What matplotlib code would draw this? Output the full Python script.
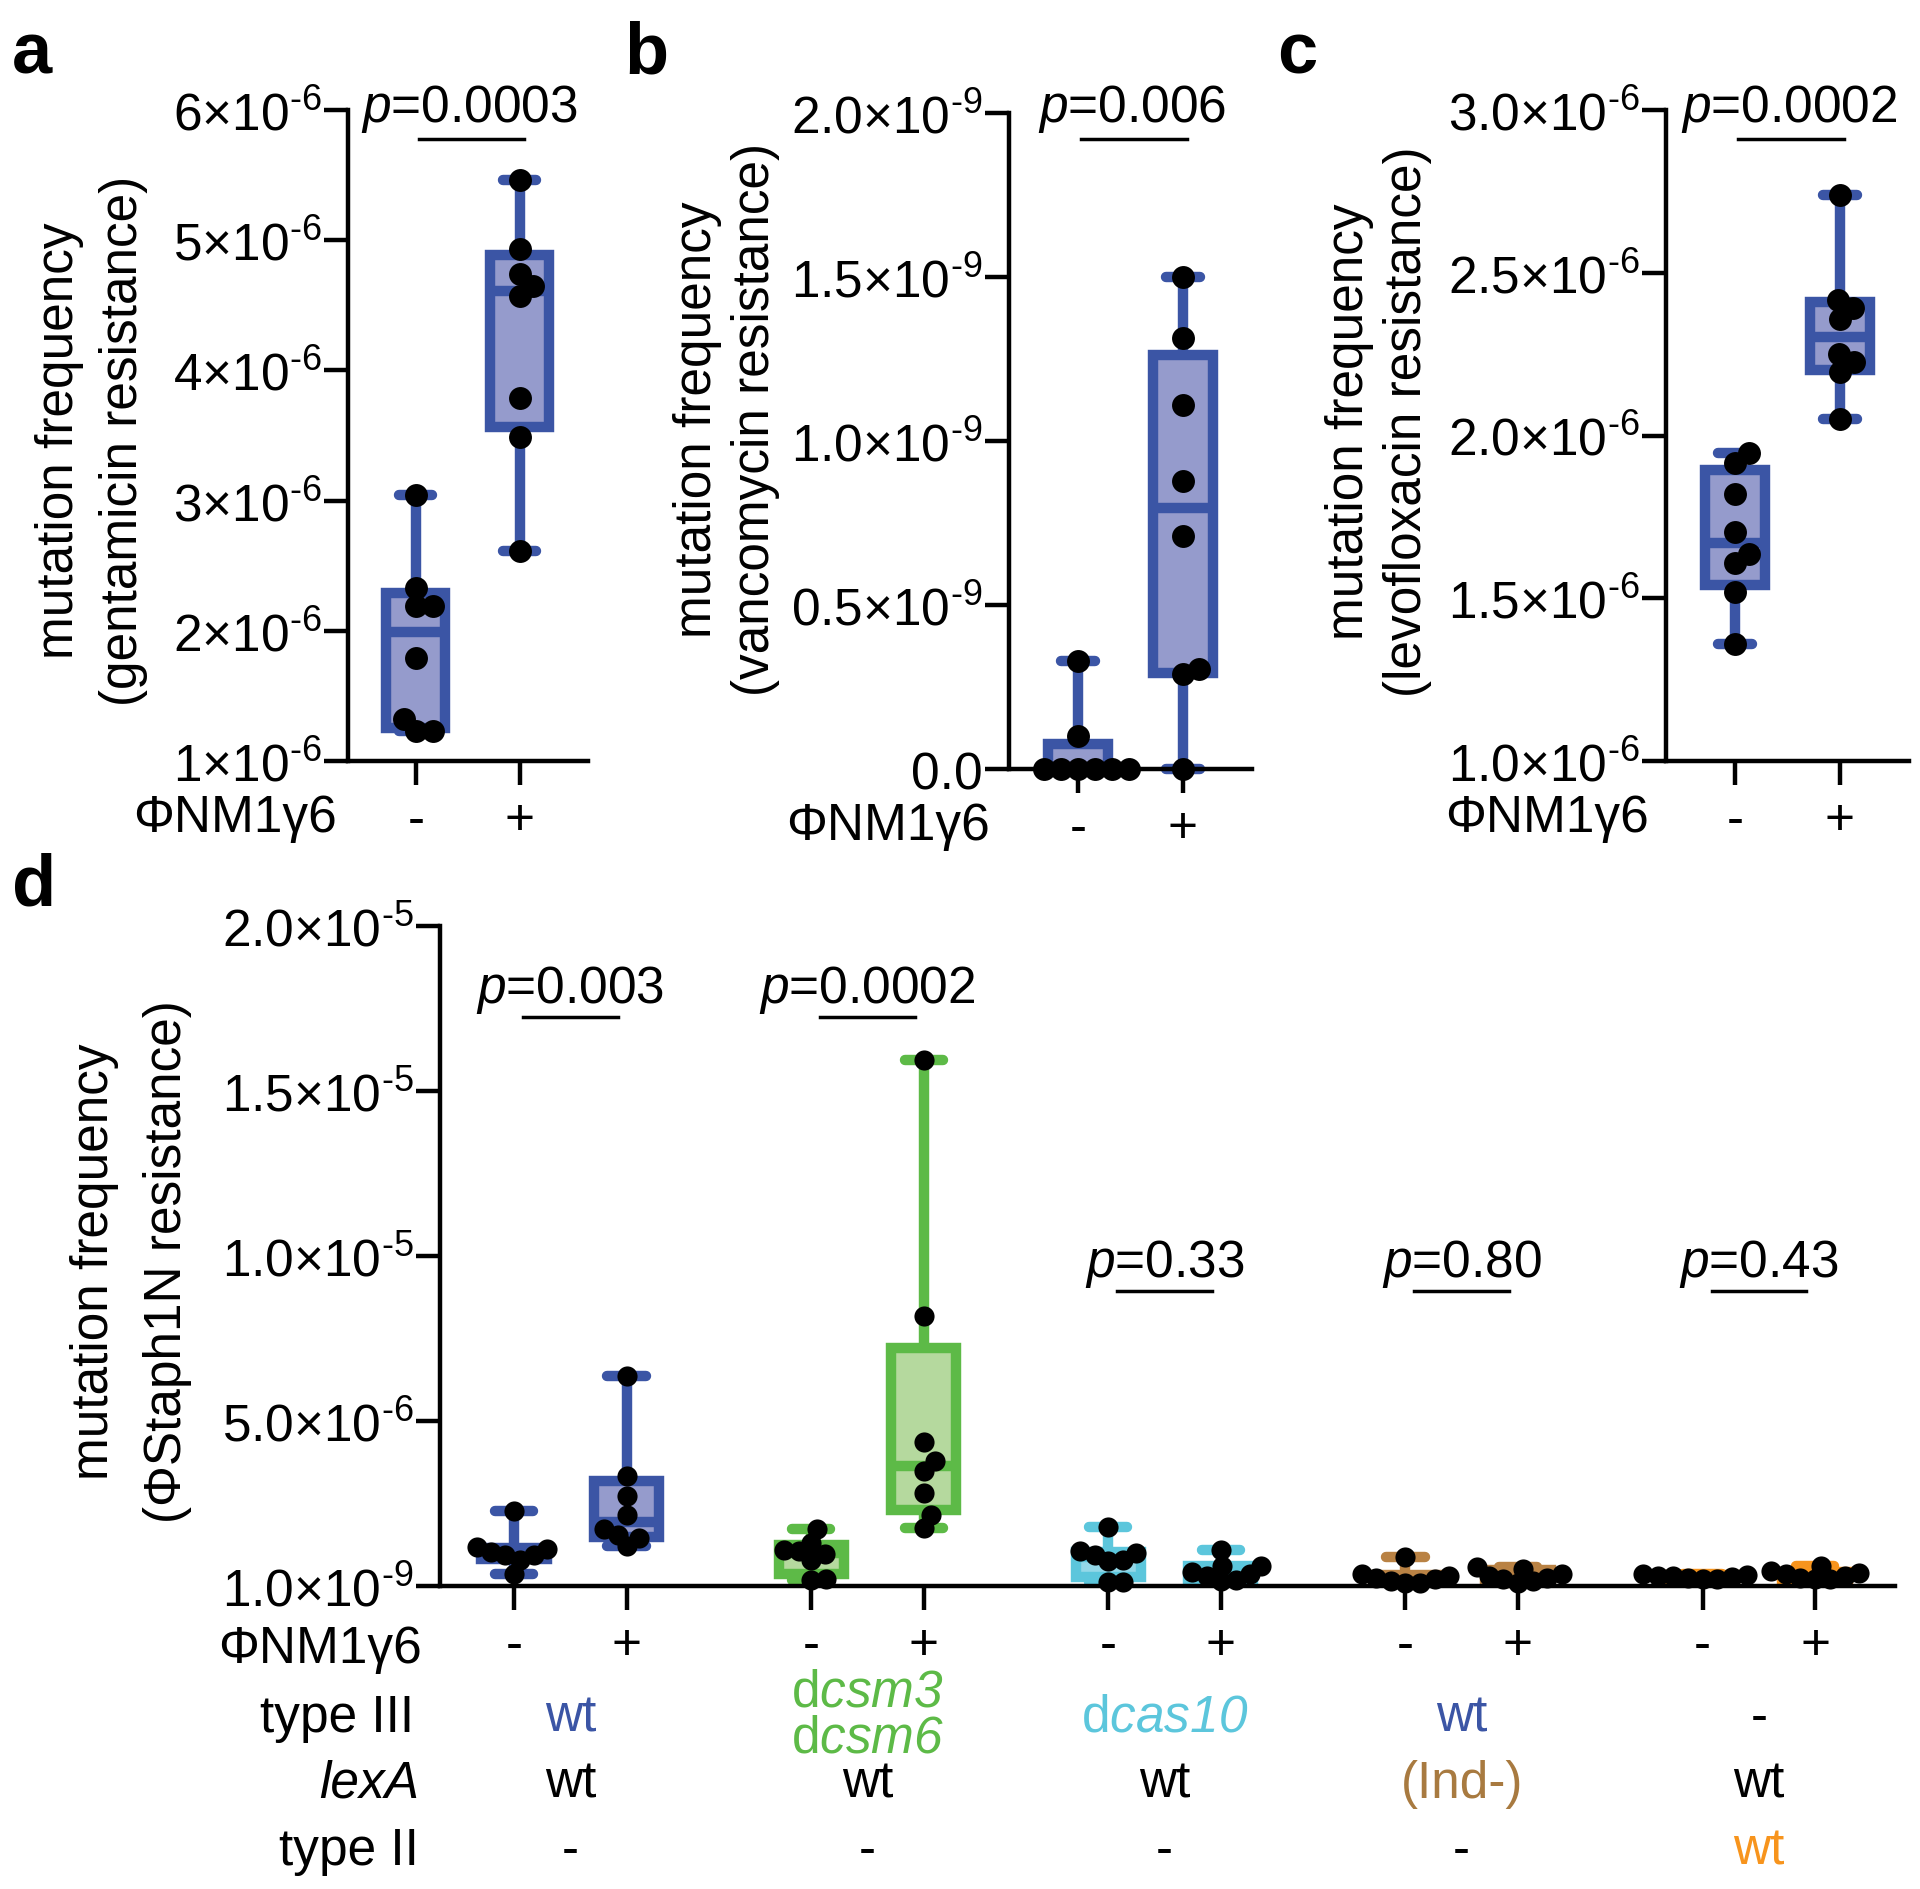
import numpy as np
import matplotlib
matplotlib.use('Agg')
import matplotlib.pyplot as plt
import matplotlib.transforms as mtransforms

plt.rcParams['font.family'] = ['Liberation Sans', 'DejaVu Sans']
plt.rcParams['mathtext.fontset'] = 'custom'
plt.rcParams['mathtext.rm'] = 'Liberation Sans'
plt.rcParams['mathtext.it'] = 'Liberation Sans:italic'
plt.rcParams['mathtext.bf'] = 'Liberation Sans:bold'
# 'sf' slot used for italic gene names so digits stay italic too
plt.rcParams['mathtext.sf'] = 'Liberation Sans:italic'

# ---- data ----
# a: gentamicin resistance, x1e-6
gent_minus = np.array([3.04, 2.325, 2.19, 2.19, 1.79, 1.32, 1.23, 1.23]) * 1e-6
gent_plus = np.array([5.46, 4.93, 4.74, 4.65, 4.57, 3.79, 3.49, 2.61]) * 1e-6
# b: vancomycin resistance, x1e-9
vanc_minus = np.array([0.33, 0.10, 0.0, 0.0, 0.0, 0.0, 0.0, 0.0]) * 1e-9
vanc_plus = np.array([1.50, 1.314, 1.11, 0.879, 0.711, 0.306, 0.289, 0.0]) * 1e-9
# c: levofloxacin resistance, x1e-6
levo_minus = np.array([1.945, 1.917, 1.82, 1.705, 1.637, 1.608, 1.52, 1.358]) * 1e-6
levo_plus = np.array([2.738, 2.417, 2.392, 2.358, 2.25, 2.225, 2.195, 2.05]) * 1e-6
# d: PhiStaph1N resistance, x1e-6, one pair (-, +) per strain
staph_minus = [
    np.array([2.26, 1.17, 1.11, 1.02, 0.93, 0.93, 0.78, 0.36]) * 1e-6,
    np.array([1.72, 1.30, 1.10, 1.05, 0.96, 0.80, 0.20, 0.18]) * 1e-6,
    np.array([1.78, 1.05, 1.00, 0.95, 0.80, 0.75, 0.12, 0.12]) * 1e-6,
    np.array([0.87, 0.35, 0.30, 0.25, 0.20, 0.15, 0.10, 0.08]) * 1e-6,
    np.array([0.35, 0.33, 0.30, 0.30, 0.28, 0.25, 0.22, 0.20]) * 1e-6,
]
staph_plus = [
    np.array([6.35, 3.34, 2.74, 2.14, 1.72, 1.56, 1.45, 1.20]) * 1e-6,
    np.array([15.93, 8.17, 4.37, 3.80, 3.49, 2.82, 2.15, 1.75]) * 1e-6,
    np.array([1.10, 0.62, 0.60, 0.42, 0.35, 0.30, 0.18, 0.15]) * 1e-6,
    np.array([0.57, 0.52, 0.35, 0.30, 0.25, 0.20, 0.15, 0.10]) * 1e-6,
    np.array([0.62, 0.45, 0.40, 0.35, 0.30, 0.25, 0.22, 0.20]) * 1e-6,
]
p_top = ['0.0003', '0.006', '0.0002']
p_d = ['0.003', '0.0002', '0.33', '0.80', '0.43']
type3_labels = ['wt', 'd$\\mathsf{csm3}$\nd$\\mathsf{csm6}$', 'd$\\mathsf{cas10}$', 'wt', '-']
lexa_labels = ['wt', 'wt', 'wt', '(Ind-)', 'wt']
type2_labels = ['-', '-', '-', '-', 'wt']

BLUE, BLUE_FILL = '#3B55A5', '#959BCC'
GREEN, GREEN_FILL = '#5DBA47', '#B5D99E'
CYAN, CYAN_FILL = '#5CC6DC', '#94D8E8'
BROWN, BROWN_FILL = '#B98244', '#DDBE98'
ORANGE, ORANGE_FILL = '#F7941D', '#FBC98C'
group_edge = [BLUE, GREEN, CYAN, BROWN, ORANGE]
group_fill = [BLUE_FILL, GREEN_FILL, CYAN_FILL, BROWN_FILL, ORANGE_FILL]
type3_colors = [BLUE, GREEN, CYAN, BLUE, 'black']
lexa_colors = ['black', 'black', 'black', '#A87A40', 'black']
type2_colors = ['black', 'black', 'black', 'black', ORANGE]

W, H = 1920, 1890
FS = 37
fig = plt.figure(figsize=(19.2, 18.9), dpi=100)


def sci(mant, exp):
    # tick label like 5×10^-6 with a plain hyphen in the exponent
    return '%s×10$^{\\text{-%d}}$' % (mant, exp)


def px_axes(left, top, right, bottom):
    return fig.add_axes([left / W, 1 - bottom / H, (right - left) / W, (bottom - top) / H])


def ftext(x, y, s, **kw):
    kw.setdefault('fontsize', FS)
    return fig.text(x / W, 1 - y / H, s, **kw)


def style(ax):
    for s in ['top', 'right']:
        ax.spines[s].set_visible(False)
    for s in ['left', 'bottom']:
        ax.spines[s].set_linewidth(3.2)
    ax.tick_params(axis='both', width=3.2, length=17, labelsize=FS)
    ax.tick_params(axis='y', pad=2)
    ax.tick_params(axis='x', pad=8)
    ax.patch.set_alpha(0)


def box_stats(vals):
    q1, med, q3 = np.percentile(vals, [25, 50, 75], method='weibull')
    return dict(med=med, q1=q1, q3=q3, whislo=vals.min(), whishi=vals.max(), fliers=[])


def draw_box(ax, vals, pos, edge, fill, lw=7.5, width=0.57, capw=0.32):
    arts = ax.bxp([box_stats(vals)], positions=[pos], widths=width, capwidths=capw,
                  patch_artist=True, showfliers=False, manage_ticks=False,
                  boxprops=dict(facecolor=fill, edgecolor=edge, linewidth=lw),
                  whiskerprops=dict(color=edge, linewidth=lw, solid_capstyle='butt'),
                  capprops=dict(color=edge, linewidth=lw, solid_capstyle='round'),
                  medianprops=dict(color=edge, linewidth=lw, solid_capstyle='butt'))
    for group in arts.values():
        for a in group:
            a.set_clip_on(False)
            a.set_zorder(2)


def swarm(ax, vals, pos, ms, squeeze=0.74):
    # simple beeswarm in pixel space so overlapping dots spread sideways
    diam = ms * fig.dpi / 72.0
    pts = ax.transData.transform(np.column_stack([np.full(len(vals), pos), vals]))
    x0, ys = pts[0, 0], pts[:, 1]
    d = diam * squeeze
    offs = np.zeros(len(vals))
    placed = []
    for i in np.argsort(ys):
        y = ys[i]
        cands = [0.0]
        for o, py in placed:
            dy = abs(py - y)
            if dy < d:
                dx = np.sqrt(d ** 2 - dy ** 2)
                cands += [o + dx, o - dx]
        cands = sorted(cands, key=lambda c: (abs(c), -c))
        for c in cands:
            if all((c - o) ** 2 + (y - py) ** 2 >= d ** 2 - 1e-6 for o, py in placed):
                offs[i] = c
                break
        placed.append((offs[i], y))
    xs = ax.transData.inverted().transform(np.column_stack([x0 + offs, ys]))[:, 0]
    ax.scatter(xs, vals, s=ms ** 2, color='black', linewidths=0, zorder=5, clip_on=False)


# ---- panels a-c ----
top_specs = [
    ('a', (348, 111, 588, 762), gent_minus, gent_plus, 1e-6, 6e-6,
     [1e-6, 2e-6, 3e-6, 4e-6, 5e-6, 6e-6], [sci(i, 6) for i in range(1, 7)],
     '(gentamicin resistance)', 12, 60, 124, 441, 337),
    ('b', (1009, 114, 1252, 770), vanc_minus, vanc_plus, 0, 2e-9,
     [0, 0.5e-9, 1e-9, 1.5e-9, 2e-9], ['0.0'] + [sci(m, 9) for m in ['0.5', '1.0', '1.5', '2.0']],
     '(vancomycin resistance)', 624, 697, 756, 420, 990),
    ('c', (1666, 111, 1909, 762), levo_minus, levo_plus, 1e-6, 3e-6,
     [1e-6, 1.5e-6, 2e-6, 2.5e-6, 3e-6], [sci(m, 6) for m in ['1.0', '1.5', '2.0', '2.5', '3.0']],
     '(levofloxacin resistance)', 1277, 1349, 1408, 422, 1649),
]
p_frac = [(0.983, 0.955), (0.988, 0.960), (0.983, 0.955)]

for k, (lab, box, vm, vp, y0, y1, yt, ytl, ylab2, labx, yl1x, yl2x, ylc, phix) in enumerate(top_specs):
    ax = px_axes(*box)
    style(ax)
    ax.set_xlim(-0.655, 1.66)
    ax.set_ylim(y0, y1)
    ax.set_yticks(yt)
    ax.set_yticklabels(ytl)
    ax.set_xticks([0, 1])
    ax.set_xticklabels(['-', '+'])
    for pos, vals in zip([0, 1], [vm, vp]):
        draw_box(ax, vals, pos, BLUE, BLUE_FILL)
        swarm(ax, vals, pos, 16.5)
    tr = ax.get_xaxis_transform()
    pt, pl = p_frac[k]
    ax.text(0.52, pt, '$p$=' + p_top[k], transform=tr, ha='center', va='baseline', fontsize=FS, clip_on=False)
    ax.plot([0.03, 1.04], [pl, pl], transform=tr, color='black', lw=2.5, clip_on=False)
    ftext(labx, 73, lab, fontsize=52, fontweight='bold', ha='left', va='baseline')
    ftext(yl1x, ylc, 'mutation frequency', rotation=90, ha='center', va='center')
    ftext(yl2x, ylc, ylab2, rotation=90, ha='center', va='center')
    ftext(phix, box[3] + 70, 'ΦNM1γ6', ha='right', va='baseline')

# ---- panel d ----
axd = px_axes(440, 927, 1895, 1587)
style(axd)
gstep = 2.64
axd.set_xlim(-0.658, 4 * gstep + 1 + 0.71)
axd.set_ylim(1e-9, 2e-5)
axd.set_yticks([1e-9, 5e-6, 1e-5, 1.5e-5, 2e-5])
axd.set_yticklabels([sci('1.0', 9), sci('5.0', 6), sci('1.0', 5), sci('1.5', 5), sci('2.0', 5)])
xpos = []
for g in range(5):
    xpos += [g * gstep, g * gstep + 1]
axd.set_xticks(xpos)
axd.set_xticklabels(['-', '+'] * 5)
trd = axd.get_xaxis_transform()
for g in range(5):
    for j, vals in enumerate([staph_minus[g], staph_plus[g]]):
        draw_box(axd, vals, g * gstep + j, group_edge[g], group_fill[g], width=0.58, capw=0.34)
        swarm(axd, vals, g * gstep + j, 14.5)
    pt, pl = (0.885, 0.862) if g < 2 else (0.47, 0.447)
    axd.text(g * gstep + 0.5, pt, '$p$=' + p_d[g], transform=trd, ha='center', va='baseline', fontsize=FS, clip_on=False)
    axd.plot([g * gstep + 0.08, g * gstep + 0.92], [pl, pl], transform=trd, color='black', lw=2.5, clip_on=False)

ftext(12, 906, 'd', fontsize=52, fontweight='bold', ha='left', va='baseline')
ftext(95, 1262, 'mutation frequency', rotation=90, ha='center', va='center')
ftext(168, 1262, '(ΦStaph1N resistance)', rotation=90, ha='center', va='center')
ftext(422, 1663, 'ΦNM1γ6', ha='right', va='baseline')
ftext(414, 1732, 'type III', ha='right', va='baseline')
ftext(419, 1798, 'lexA', ha='right', va='baseline', fontstyle='italic')
ftext(419, 1865, 'type II', ha='right', va='baseline')

bt = mtransforms.blended_transform_factory(axd.transData, fig.transFigure)
for g in range(5):
    xc = g * gstep + 0.5
    if '\n' in type3_labels[g]:
        l1, l2 = type3_labels[g].split('\n')
        fig.text(xc, 1 - 1707 / H, l1, transform=bt, ha='center', va='baseline', fontsize=FS, color=type3_colors[g])
        fig.text(xc, 1 - 1753 / H, l2, transform=bt, ha='center', va='baseline', fontsize=FS, color=type3_colors[g])
    else:
        fig.text(xc, 1 - 1732 / H, type3_labels[g], transform=bt, ha='center', va='baseline', fontsize=FS, color=type3_colors[g])
    fig.text(xc, 1 - 1798 / H, lexa_labels[g], transform=bt, ha='center', va='baseline', fontsize=FS, color=lexa_colors[g])
    fig.text(xc, 1 - 1865 / H, type2_labels[g], transform=bt, ha='center', va='baseline', fontsize=FS, color=type2_colors[g])

fig.savefig('out.png', dpi=100, facecolor='white')
